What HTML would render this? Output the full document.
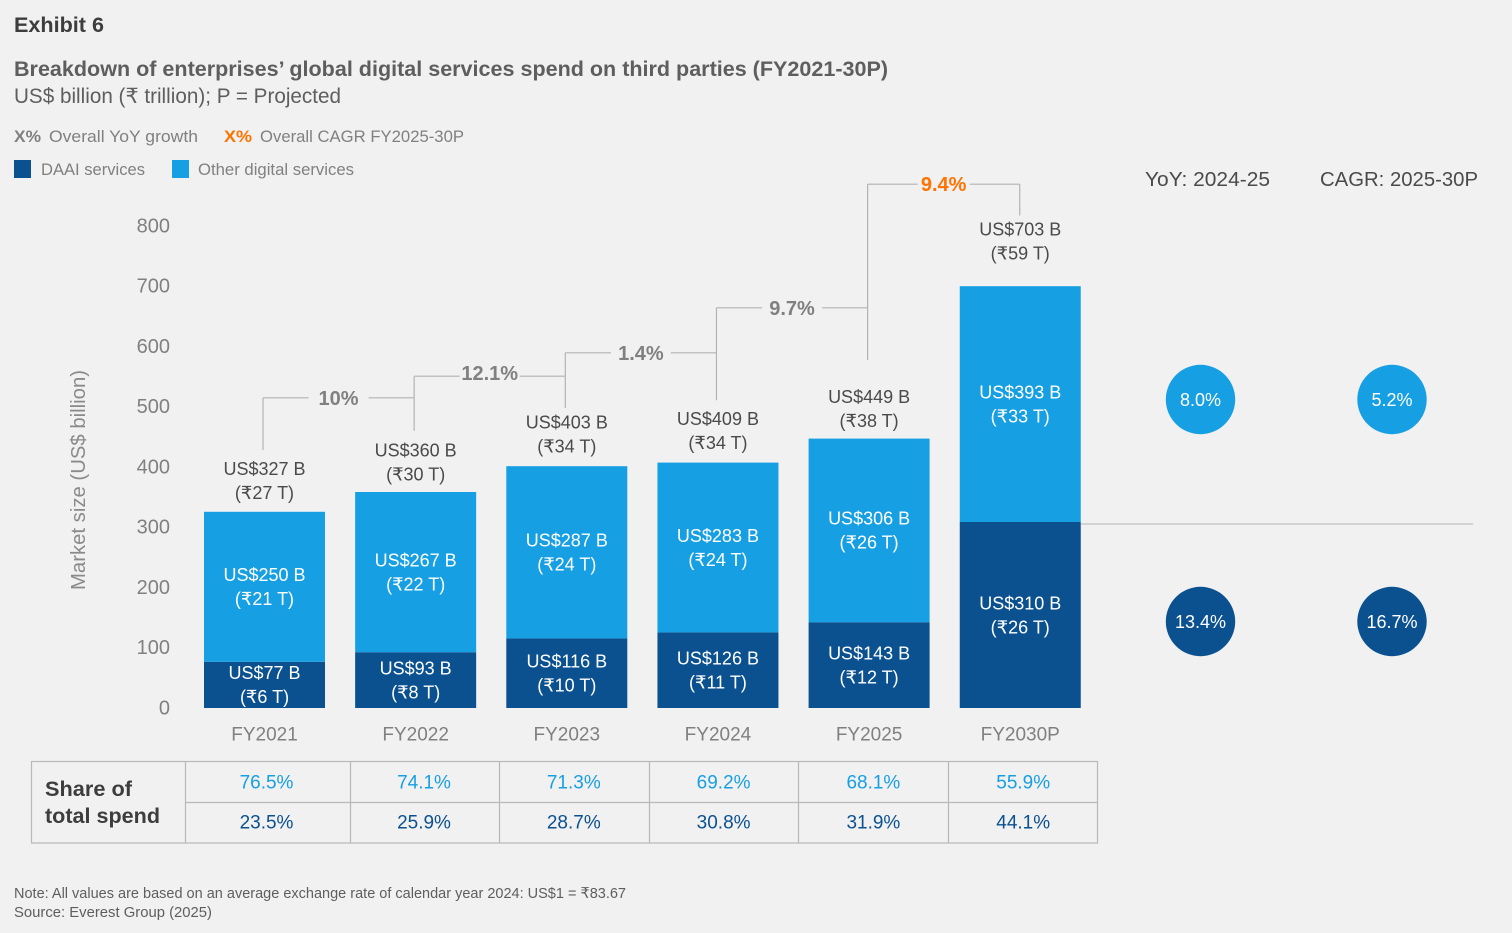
<!DOCTYPE html>
<html lang="en">
<head>
<meta charset="utf-8">
<title>Exhibit 6</title>
<style>
html,body{margin:0;padding:0;background:#f1f1f1;}
svg{display:block;font-family:"Liberation Sans","DejaVu Sans",sans-serif;}
</style>
</head>
<body>
<svg id="chart" width="1512" height="933" viewBox="0 0 1512 933" xmlns="http://www.w3.org/2000/svg">
  <rect x="0" y="0" width="1512" height="933" fill="#f1f1f1"/>
  <text x="14" y="32" font-size="21" font-weight="700" fill="#3d3d3d" textLength="90" lengthAdjust="spacingAndGlyphs">Exhibit 6</text>
  <text x="14" y="76" font-size="21.5" font-weight="700" fill="#5e5e5e" textLength="874" lengthAdjust="spacingAndGlyphs">Breakdown of enterprises’ global digital services spend on third parties (FY2021-30P)</text>
  <text x="14" y="103" font-size="21" fill="#5e5e5e" textLength="327" lengthAdjust="spacingAndGlyphs">US$ billion (₹ trillion); P = Projected</text>

  <text x="14" y="142" font-size="17" font-weight="700" fill="#808080" textLength="27" lengthAdjust="spacingAndGlyphs">X%</text>
  <text x="49" y="142" font-size="17" fill="#808080" textLength="149" lengthAdjust="spacingAndGlyphs">Overall YoY growth</text>
  <text x="224" y="142" font-size="17" font-weight="700" fill="#ff7300" textLength="28" lengthAdjust="spacingAndGlyphs">X%</text>
  <text x="260" y="142" font-size="17" fill="#808080" textLength="204" lengthAdjust="spacingAndGlyphs">Overall CAGR FY2025-30P</text>
  <rect x="14" y="160" width="17" height="18" fill="#0b5190"/>
  <text x="41" y="175" font-size="17" fill="#808080" textLength="104" lengthAdjust="spacingAndGlyphs">DAAI services</text>
  <rect x="172" y="160" width="17" height="18" fill="#179fe3"/>
  <text x="198" y="175" font-size="17" fill="#808080" textLength="156" lengthAdjust="spacingAndGlyphs">Other digital services</text>

  <text transform="translate(85 480) rotate(-90)" text-anchor="middle" font-size="20" fill="#8a8a8a" textLength="220" lengthAdjust="spacingAndGlyphs">Market size (US$ billion)</text>

  <text x="1145" y="186" font-size="20.5" fill="#4a4a4a" textLength="125" lengthAdjust="spacingAndGlyphs">YoY: 2024-25</text>
  <text x="1320" y="186" font-size="20.5" fill="#4a4a4a" textLength="158" lengthAdjust="spacingAndGlyphs">CAGR: 2025-30P</text>
  <line x1="1081" y1="524" x2="1473" y2="524" stroke="#b5b5b5" stroke-width="1"/>

  <g id="bars"></g>
  <g id="connectors"></g>
  <g id="axis"></g>
  <g id="bubbles"></g>

  <g id="share-table">
    <rect x="31.5" y="761.5" width="1066" height="81.5" fill="none" stroke="#b8b8b8" stroke-width="1.2"/>
    <line x1="185" y1="802.5" x2="1098" y2="802.5" stroke="#b8b8b8" stroke-width="1.2"/>
    <line x1="185.5" y1="761" x2="185.5" y2="843" stroke="#b8b8b8" stroke-width="1.2"/>
    <line x1="350.5" y1="761" x2="350.5" y2="843" stroke="#b8b8b8" stroke-width="1.2"/>
    <line x1="499.5" y1="761" x2="499.5" y2="843" stroke="#b8b8b8" stroke-width="1.2"/>
    <line x1="649.5" y1="761" x2="649.5" y2="843" stroke="#b8b8b8" stroke-width="1.2"/>
    <line x1="798.5" y1="761" x2="798.5" y2="843" stroke="#b8b8b8" stroke-width="1.2"/>
    <line x1="948.5" y1="761" x2="948.5" y2="843" stroke="#b8b8b8" stroke-width="1.2"/>
    <text x="45" y="796" font-size="21" font-weight="700" fill="#3d3d3d" textLength="87" lengthAdjust="spacingAndGlyphs">Share of</text>
    <text x="45" y="823" font-size="21" font-weight="700" fill="#3d3d3d" textLength="115" lengthAdjust="spacingAndGlyphs">total spend</text>
  </g>

  <text x="14" y="898" font-size="15" fill="#5e5e5e" textLength="612" lengthAdjust="spacingAndGlyphs">Note: All values are based on an average exchange rate of calendar year 2024: US$1 = ₹83.67</text>
  <text x="14" y="917" font-size="15" fill="#5e5e5e" textLength="198" lengthAdjust="spacingAndGlyphs">Source: Everest Group (2025)</text>
</svg>

<script>
// ---- data ----
const categories = ['FY2021','FY2022','FY2023','FY2024','FY2025','FY2030P'];
const daaiValues = [77,93,116,126,143,310];
const otherValues = [250,267,287,283,306,393];
const totalValues = [327,360,403,409,449,703];
const daaiRupee = ['₹6 T','₹8 T','₹10 T','₹11 T','₹12 T','₹26 T'];
const otherRupee = ['₹21 T','₹22 T','₹24 T','₹24 T','₹26 T','₹33 T'];
const totalRupee = ['₹27 T','₹30 T','₹34 T','₹34 T','₹38 T','₹59 T'];
const yTicks = [0,100,200,300,400,500,600,700,800];
const growthLabels = ['10%','12.1%','1.4%','9.7%','9.4%'];
const growthBaseValues = [430,462,500,513,580,821];
const growthLevelValues = [517,553,592,667,873];
const otherShare = ['76.5%','74.1%','71.3%','69.2%','68.1%','55.9%'];
const daaiShare = ['23.5%','25.9%','28.7%','30.8%','31.9%','44.1%'];
const yoyRates = ['8.0%','13.4%'];
const cagrRates = ['5.2%','16.7%'];

// ---- axis functions ----
const y = v => 708 - v * 0.6;
const yTick = v => 707.4 - v * 0.6025;
const xLeft = i => 204 + i * 151.15;
const barWidth = 121;
const xMid = i => xLeft(i) + barWidth / 2;
const shareColumnCenter = i => i === 0 ? 266.5 : 424 + (i - 1) * 149.8;
const totalLabelLift = i => i === categories.length - 1 ? 15 : (i === 2 || i === 3 ? 2 : (i === 0 ? 1 : 0));

const NS = 'http://www.w3.org/2000/svg';
function make(parent, tag, name, attrs) {
  const el = document.createElementNS(NS, tag);
  
  
  for (const k in attrs) el.setAttribute(k, attrs[k]);
  parent.appendChild(el);
  return el;
}
function label(parent, name, x, cy, str, size, fill, extra) {
  const t = make(parent, 'text', name, Object.assign({
    x: x, y: cy + size * 0.35, 'font-size': size, fill: fill, 'text-anchor': 'middle'
  }, extra || {}));
  t.textContent = str;
  return t;
}
function hline(parent, x1, x2, yy) {
  make(parent, 'line', 'growth-connector', {x1: x1, y1: yy, x2: x2, y2: yy, stroke: '#b3b3b3', 'stroke-width': 1.2});
}
function vline(parent, xx, y1, y2) {
  make(parent, 'line', 'growth-connector', {x1: xx, y1: y1, x2: xx, y2: y2, stroke: '#b3b3b3', 'stroke-width': 1.2});
}

const barsG = document.getElementById('bars');
const connG = document.getElementById('connectors');
const axisG = document.getElementById('axis');
const bubblesG = document.getElementById('bubbles');
const tableG = document.getElementById('share-table');

// y ticks
yTicks.forEach(v => {
  label(axisG, 'y-axis-tick', 170, yTick(v), String(v), 20, '#808080', {'text-anchor': 'end'});
});

// bars and labels
categories.forEach((cat, i) => {
  const d = daaiValues[i], o = otherValues[i], total = totalValues[i];
  const x = xLeft(i), c = xMid(i);
  make(barsG, 'rect', 'bar-daai-' + cat.toLowerCase(), {x: x, y: y(d), width: barWidth, height: y(0) - y(d), fill: '#0b5190'});
  make(barsG, 'rect', 'bar-other-' + cat.toLowerCase(), {x: x, y: y(d + o), width: barWidth, height: y(d) - y(d + o), fill: '#179fe3'});

  const dc = (y(0) + y(d)) / 2;
  label(barsG, 'daai-value-label', c, dc - 12, 'US$' + d + ' B', 18, '#ffffff');
  label(barsG, 'daai-rupee-label', c, dc + 12, '(' + daaiRupee[i] + ')', 18, '#ffffff');
  const oc = (y(d) + y(d + o)) / 2;
  label(barsG, 'other-value-label', c, oc - 12, 'US$' + o + ' B', 18, '#ffffff');
  label(barsG, 'other-rupee-label', c, oc + 12, '(' + otherRupee[i] + ')', 18, '#ffffff');

  const lift = totalLabelLift(i);
  label(barsG, 'total-value-label', c, y(d + o) - 42 - lift, 'US$' + total + ' B', 18, '#4a4a4a');
  label(barsG, 'total-rupee-label', c, y(d + o) - 18 - lift, '(' + totalRupee[i] + ')', 18, '#4a4a4a');

  label(axisG, 'x-axis-label', c, 734, cat, 19, '#808080');

  const sc = shareColumnCenter(i);
  label(tableG, 'other-share-value', sc, 782, otherShare[i], 19, '#179fe3');
  label(tableG, 'daai-share-value', sc, 822, daaiShare[i], 19, '#0b5190');
});

// growth connectors
growthLabels.forEach((g, i) => {
  const x1 = xMid(i) - 1.5, x2 = xMid(i + 1) - 0.5 * (i === growthLabels.length - 1 ? 1 : 3), mid = (x1 + x2) / 2;
  const level = y(growthLevelValues[i]);
  const last = i === growthLabels.length - 1;
  const half = last ? 26 : 30;
  vline(connG, x1, y(growthBaseValues[i]), level);
  hline(connG, x1, mid - half, level);
  hline(connG, mid + half, x2, level);
  label(connG, last ? 'cagr-label' : 'yoy-growth-label', mid, level + (i === 1 ? -3 : 0), g, 20, last ? '#ff7300' : '#808080', {'font-weight': 700});
  if (last) vline(connG, x2, level, y(growthBaseValues[i + 1]));
});

// rate bubbles
[[1200.5, yoyRates], [1392, cagrRates]].forEach(([cx, rates]) => {
  rates.forEach((rate, j) => {
    const cy = j === 0 ? 399.5 : 621.5;
    make(bubblesG, 'circle', j === 0 ? 'other-rate-bubble' : 'daai-rate-bubble', {cx: cx, cy: cy, r: 34.7, fill: j === 0 ? '#179fe3' : '#0b5190'});
    label(bubblesG, 'rate-value', cx, cy, rate, 18, '#ffffff');
  });
});
</script>
</body>
</html>
